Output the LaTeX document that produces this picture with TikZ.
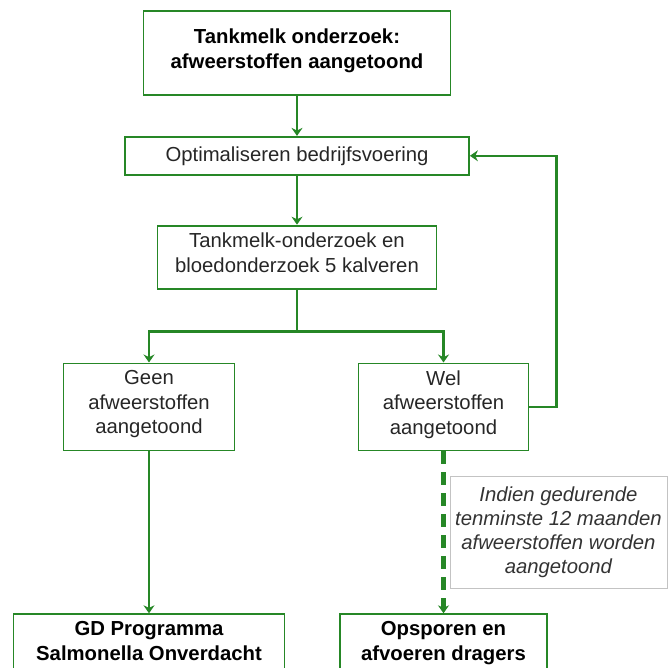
\documentclass[tikz,border=0pt]{standalone}
\usepackage{fontspec}
\setmainfont{Liberation Sans}
\usetikzlibrary{positioning}
\usetikzlibrary{arrows.meta}
\definecolor{gdgreen}{RGB}{38,135,38}
\definecolor{notegray}{RGB}{195,195,195}
\tikzset{
  stepbox/.style={rectangle, draw=gdgreen, line width=1.8pt, align=center,
    inner sep=0pt, text depth=9pt, font=\fontsize{20.3}{24.5}\selectfont, text=black!85},
  keybox/.style={stepbox, font=\fontsize{20.3}{24.5}\selectfont\bfseries, text=black},
  notebox/.style={rectangle, draw=notegray, solid, line width=0.8pt, align=center,
    inner sep=0pt, minimum width=217pt, minimum height=112pt,
    font=\fontsize{20.3}{24}\selectfont\itshape, text=black!80},
  link/.style={draw=gdgreen, line width=2.4pt},
  flow/.style={link, -{Stealth[length=8pt,width=11pt]}},
  maybe/.style={flow, line width=4.2pt, dash pattern=on 13pt off 8pt},
}
\begin{document}
\begin{tikzpicture}
  \useasboundingbox (0,0) rectangle (667pt,-668pt);

  % main column
  \node[keybox, minimum width=307pt, minimum height=84pt] (start) at (297pt,-53pt)
    {Tankmelk onderzoek:\\afweerstoffen aangetoond};
  \node[stepbox, text depth=4pt, minimum width=344pt, minimum height=38pt, below=40pt of start] (opt)
    {Optimaliseren bedrijfsvoering};
  \node[stepbox, minimum width=279pt, minimum height=63pt, below=49pt of opt] (tank)
    {Tankmelk-onderzoek en\\bloedonderzoek 5 kalveren};

  % outcomes
  \node[stepbox, minimum width=171pt, minimum height=87pt, below=73pt of tank, xshift=-148pt] (geen)
    {Geen\\afweerstoffen\\aangetoond};
  \node[stepbox, minimum width=170pt, minimum height=87pt, below=73pt of tank, xshift=146.5pt] (wel)
    {Wel\\afweerstoffen\\aangetoond};

  \node[keybox, minimum width=271pt, minimum height=62pt, below=162pt of geen] (gd)
    {GD Programma\\Salmonella Onverdacht};
  \node[keybox, minimum width=207pt, minimum height=62pt, below=162pt of wel] (ops)
    {Opsporen en\\afvoeren dragers};

  \coordinate[below=42pt of tank] (split);

  \draw[flow] (start) -- (opt);
  \draw[flow] (opt) -- (tank);
  \draw[link] (tank.south) -- (split);
  \draw[flow] (split) -| (geen.north);
  \draw[flow] (split) -| (wel.north);
  \draw[flow] (wel.east) -- ++(27pt,0) |- (opt.east);
  \draw[flow] (geen) -- (gd);
  \draw[maybe] (wel) -- node[notebox, right=6pt]
    {Indien gedurende\\tenminste 12 maanden\\afweerstoffen worden\\aangetoond} (ops);
\end{tikzpicture}
\end{document}
